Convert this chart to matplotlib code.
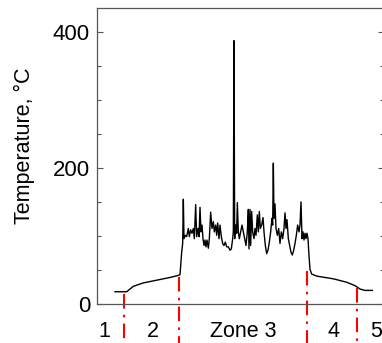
import matplotlib.pyplot as plt
from matplotlib.ticker import MultipleLocator

plt.rcParams['font.family'] = ['Liberation Sans', 'DejaVu Sans']

# position along the sample (arbitrary units) and measured temperature
pos = [345, 380, 390, 400, 430, 470, 510, 535, 540, 545, 548, 550, 552, 556, 560,
       565, 568, 572, 576, 580, 583, 587, 590, 594, 597, 600, 603, 606, 609, 612,
       615, 618, 621, 625, 628, 632, 636, 640, 643, 647, 650, 653, 657, 660, 664,
       668, 672, 676, 680, 685, 690, 694, 698, 700, 702, 704, 707, 710, 712, 715,
       718, 722, 726, 730, 734, 738, 742, 745, 747, 750, 752, 755, 758, 762, 765,
       768, 772, 775, 778, 781, 785, 789, 792, 796, 800, 804, 808, 812, 816, 818,
       820, 822, 825, 828, 832, 836, 840, 844, 848, 852, 855, 858, 861, 865, 869,
       873, 877, 881, 885, 889, 893, 897, 900, 903, 906, 909, 912, 915, 918, 921,
       924, 927, 930, 935, 950, 1000, 1040, 1065, 1080, 1095, 1117]
temp = [18, 18, 22, 26, 31, 35, 39, 42, 43, 76, 89, 154, 96, 101, 99,
        111, 99, 109, 104, 111, 96, 146, 99, 111, 99, 142, 106, 116, 96, 86,
        94, 84, 94, 82, 96, 135, 111, 121, 106, 116, 101, 119, 96, 116, 99,
        89, 86, 91, 84, 84, 79, 81, 96, 106, 387, 96, 116, 104, 149, 106,
        96, 106, 116, 106, 96, 86, 106, 139, 81, 139, 86, 136, 106, 96, 111,
        101, 131, 106, 136, 111, 116, 127, 106, 86, 74, 79, 91, 106, 126, 116,
        207, 126, 147, 111, 101, 111, 89, 106, 96, 111, 134, 111, 124, 96, 86,
        76, 72, 79, 89, 101, 116, 106, 116, 150, 96, 106, 94, 104, 96, 104,
        96, 71, 51, 44, 41, 37, 32, 27, 22, 20, 20]

# zone boundaries and where each dashed marker starts
bound_pos = [372, 538, 921, 1071]
bound_top = [15, 40, 49, 24]

zone_labels = ['1', '2', 'Zone 3', '4', '5']
zone_label_pos = [312, 460, 730, 1000, 1128]

fig = plt.figure(figsize=(3.82, 3.43), dpi=100)
ax = fig.add_axes([97 / 382, 39 / 343, 287 / 382, 296 / 343])

ax.plot(pos, temp, color='black', lw=1.0)

for bp, bt in zip(bound_pos, bound_top):
    ax.plot([bp, bp], [bt, -62], color='red', lw=1.5,
            linestyle=(0, (7, 3, 1.2, 3)), clip_on=False)

for lbl, lp in zip(zone_labels, zone_label_pos):
    ax.text(lp, -41, lbl, ha='center', va='center', fontsize=15.5, clip_on=False)

ax.set_xlim(291, 1152)
ax.set_ylim(0, 435)
ax.set_xticks([])
ax.yaxis.set_major_locator(MultipleLocator(200))
ax.yaxis.set_minor_locator(MultipleLocator(50))
ax.tick_params(axis='y', which='both', direction='in', right=True,
               labelsize=16, colors='#555555', labelcolor='black', pad=5)
ax.tick_params(axis='y', which='major', length=4, width=0.8)
ax.tick_params(axis='y', which='minor', length=3, width=0.8)
for s in ax.spines.values():
    s.set_color('#555555')
    s.set_linewidth(0.9)

ax.set_ylabel('Temperature, °C', fontsize=15.5)
ax.yaxis.set_label_coords(-0.215, 0.535)

fig.savefig('out.png', dpi=100)
